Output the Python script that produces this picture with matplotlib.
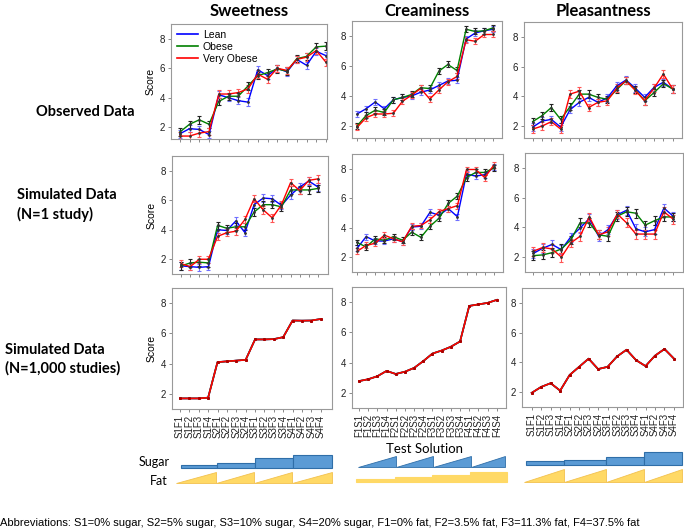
import numpy as np
import matplotlib.pyplot as plt
from matplotlib.patches import Rectangle, Polygon
from matplotlib.lines import Line2D

# x labels
labels_sf = ['S%dF%d' % (s, f) for s in range(1, 5) for f in range(1, 5)]
labels_fs = ['F%dS%d' % (f, s) for f in range(1, 5) for s in range(1, 5)]

# ---- observed data ----
obs_sweet_lean = [1.55, 1.9, 1.85, 1.5, 4.2, 4.0, 3.8, 3.7, 5.9, 5.5, 6.0, 5.75, 6.6, 6.2, 7.15, 6.85]
obs_sweet_obese = [1.67, 2.2, 2.5, 2.2, 3.75, 4.1, 4.1, 4.8, 5.5, 5.7, 5.95, 5.8, 6.65, 6.8, 7.45, 7.5]
obs_sweet_vob = [1.4, 1.4, 1.6, 1.7, 4.25, 4.25, 4.35, 4.6, 5.6, 5.25, 6.0, 5.85, 6.6, 6.75, 7.2, 6.4]

obs_cream_lean = [2.8, 3.15, 3.6, 3.15, 3.75, 3.9, 4.0, 4.25, 4.4, 4.7, 5.0, 5.05, 7.8, 8.2, 8.35, 8.45]
obs_cream_obese = [2.0, 2.7, 3.05, 2.9, 3.75, 3.9, 4.1, 4.55, 4.5, 5.65, 6.1, 5.7, 8.45, 8.3, 8.35, 8.55]
obs_cream_vob = [1.9, 2.55, 2.8, 2.8, 2.85, 3.65, 4.05, 4.5, 3.8, 4.4, 4.95, 5.3, 7.75, 7.65, 8.1, 8.1]

obs_pleas_lean = [1.93, 2.34, 2.45, 1.93, 3.1, 3.6, 3.93, 3.6, 3.9, 4.7, 5.1, 4.55, 3.93, 4.6, 4.95, 4.5]
obs_pleas_obese = [2.3, 2.7, 3.25, 2.45, 3.3, 4.15, 4.15, 3.93, 3.8, 4.45, 5.05, 4.45, 3.7, 4.25, 4.85, 4.5]
obs_pleas_vob = [1.8, 2.0, 2.3, 1.8, 4.15, 4.35, 3.25, 3.6, 3.7, 4.55, 5.05, 4.4, 3.7, 4.55, 5.5, 4.5]

# ---- simulated data, N=1 study ----
sim1_sweet_lean = [1.55, 1.5, 1.45, 1.5, 4.0, 3.95, 4.6, 3.8, 5.7, 6.15, 6.1, 5.65, 6.35, 6.9, 7.3, 6.9]
sim1_sweet_obese = [1.55, 1.75, 1.8, 1.75, 4.3, 4.1, 4.2, 4.2, 5.2, 5.7, 5.7, 5.55, 6.7, 6.7, 6.7, 6.8]
sim1_sweet_vob = [1.7, 1.5, 2.0, 2.0, 3.55, 3.8, 3.9, 4.7, 6.1, 5.35, 4.8, 5.7, 7.2, 6.65, 7.35, 7.45]

sim1_cream_lean = [2.6, 3.4, 3.1, 3.1, 3.25, 3.05, 4.05, 4.1, 5.05, 4.85, 5.3, 4.75, 7.65, 7.5, 7.6, 8.1]
sim1_cream_obese = [3.0, 2.7, 3.25, 3.15, 3.4, 3.15, 3.7, 3.35, 4.1, 4.65, 5.65, 6.15, 7.4, 7.75, 7.75, 8.05]
sim1_cream_vob = [2.4, 2.8, 2.95, 3.5, 3.25, 3.05, 4.1, 4.15, 4.55, 5.1, 5.3, 5.5, 7.95, 7.95, 7.4, 8.25]

sim1_pleas_lean = [2.25, 2.6, 2.85, 2.5, 3.35, 3.95, 4.6, 3.4, 3.85, 4.85, 5.15, 3.9, 3.7, 3.85, 5.3, 4.75]
sim1_pleas_obese = [2.1, 2.15, 2.3, 2.55, 3.15, 4.3, 4.3, 3.5, 3.4, 4.75, 5.05, 4.95, 4.15, 4.45, 4.7, 4.7]
sim1_pleas_vob = [2.4, 2.65, 2.55, 2.0, 2.95, 3.4, 4.7, 3.5, 3.7, 4.9, 4.3, 3.55, 3.55, 3.55, 5.05, 4.55]

# ---- simulated data, N=1,000 studies (groups overlap) ----
sim1000_sweet = [1.7, 1.7, 1.7, 1.75, 4.1, 4.15, 4.2, 4.25, 5.6, 5.6, 5.62, 5.75, 6.85, 6.84, 6.85, 6.95]
sim1000_cream = [2.78, 2.9, 3.1, 3.45, 3.25, 3.4, 3.65, 4.1, 4.6, 4.8, 5.05, 5.4, 7.75, 7.85, 7.95, 8.15]
sim1000_pleas = [1.95, 2.35, 2.6, 2.1, 3.15, 3.7, 4.25, 3.55, 3.7, 4.4, 4.85, 4.15, 3.75, 4.45, 4.9, 4.25]

# standard errors (rough read)
obs_err = [0.25, 0.2, 0.25]
sim1_err = [0.25, 0.2, 0.3]

groups = ['Lean', 'Obese', 'Very Obese']
line_cols = ['#0000ff', '#008000', '#ff0000']
err_cols = ['#7070ff', '#222222', '#ff5555']

W, H = 684, 530
fig = plt.figure(figsize=(W / 100, H / 100), dpi=100)
plt.rcParams['font.family'] = ['Liberation Sans', 'DejaVu Sans']


def rect(l, t, r, b):
    return [l / W, 1 - b / H, (r - l) / W, (b - t) / H]


def ftext(x, y, s, **kw):
    fig.text(x / W, 1 - y / H, s, **kw)


boxes = [
    [(171, 24, 327, 139), (352, 21, 502, 138), (524, 22, 682, 138)],
    [(172, 156, 328, 274), (352, 154, 503, 272), (525, 153, 683, 272)],
    [(172, 288, 332, 409), (352, 287, 506, 408), (522, 288, 683, 407)],
]
xlims = [
    [(0.1, 16.1), (0.45, 16.95), (0.07, 17.0)],
    [(0.0, 17.1), (0.45, 17.0), (0.1, 17.05)],
    [(0.15, 17.2), (0.24, 17.0), (-0.02, 16.95)],
]
ylims = [(1.2, 9.0), (1.0, 9.0), (1.0, 9.0)]

data = [
    [[obs_sweet_lean, obs_sweet_obese, obs_sweet_vob],
     [obs_cream_lean, obs_cream_obese, obs_cream_vob],
     [obs_pleas_lean, obs_pleas_obese, obs_pleas_vob]],
    [[sim1_sweet_lean, sim1_sweet_obese, sim1_sweet_vob],
     [sim1_cream_lean, sim1_cream_obese, sim1_cream_vob],
     [sim1_pleas_lean, sim1_pleas_obese, sim1_pleas_vob]],
    [[sim1000_sweet] * 3, [sim1000_cream] * 3, [sim1000_pleas] * 3],
]
errs = [obs_err, sim1_err, None]
xlabels = [labels_sf, labels_fs, labels_sf]

x = np.arange(1, 17)
for r in range(3):
    for c in range(3):
        ax = fig.add_axes(rect(*boxes[r][c]))
        for g in range(3):
            y = data[r][c][g]
            if errs[r] is not None:
                ax.errorbar(x, y, yerr=errs[r][c], color=line_cols[g], ecolor=err_cols[g],
                            elinewidth=0.8, capsize=1.5, capthick=0.8, lw=1.0,
                            marker='.', ms=2, mfc='#333333', mec='#333333')
            else:
                ax.plot(x, y, color=line_cols[g], lw=1.2, marker='.', ms=2.2,
                        mfc='#aa0000', mec='#aa0000')
        ax.set_xlim(*xlims[r][c])
        ax.set_ylim(*ylims[r])
        ax.set_yticks([2, 4, 6, 8])
        ax.set_xticks(x)
        if r == 2:
            ax.set_xticklabels(xlabels[c], rotation=90, fontsize=7)
        else:
            ax.set_xticklabels([])
        ax.tick_params(labelsize=7, length=2.5, width=0.6, color='#777777', labelcolor='#222222', pad=2)
        for sp in ax.spines.values():
            sp.set_color('#999999')
            sp.set_linewidth(0.8)
        if c == 0:
            ax.set_ylabel('Score', fontsize=7.5, labelpad=3)
        if r == 0 and c == 0:
            handles = [Line2D([], [], color=col, lw=1.2) for col in line_cols]
            ax.legend(handles, groups, loc='upper left', frameon=False, fontsize=7.5,
                      handlelength=2.0, handletextpad=0.5, borderaxespad=0.15, labelspacing=0.2)

# titles and row labels
for xc, name in zip([249, 427, 603], ['Sweetness', 'Creaminess', 'Pleasantness']):
    ftext(xc, 11, name, family='Lato', fontweight='bold', fontsize=12, ha='center', va='center')
ftext(85, 112, 'Observed Data', family='Lato', fontweight='bold', fontsize=10.5, ha='center', va='center')
ftext(17, 205, 'Simulated Data\n(N=1 study)', family='Lato', fontweight='bold', fontsize=10.5,
      ha='left', va='center', linespacing=1.35)
ftext(5, 359, 'Simulated Data\n(N=1,000 studies)', family='Lato', fontweight='bold', fontsize=10.5,
      ha='left', va='center', linespacing=1.35)
ftext(425, 449, 'Test Solution', family='Lato', fontsize=9.5, ha='center', va='center')
ftext(170, 462, 'Sugar', family='Lato', fontsize=9, ha='right', va='center')
ftext(168, 481, 'Fat', family='Lato', fontsize=9, ha='right', va='center')
ftext(0, 523, 'Abbreviations: S1=0% sugar, S2=5% sugar, S3=10% sugar, S4=20% sugar, '
      'F1=0% fat, F2=3.5% fat, F3=11.3% fat, F4=37.5% fat', fontsize=8, ha='left', va='center')

# schematic of sugar / fat levels
sch = fig.add_axes([0, 0, 1, 1])
sch.set_xlim(0, W)
sch.set_ylim(H, 0)
sch.axis('off')
blue_f, blue_e = '#5b9bd5', '#2f6ea8'
yel_f, yel_e = '#ffd966', '#f2c14e'


def steps(edges, base, heights, fc, ec):
    for i in range(4):
        sch.add_patch(Rectangle((edges[i], base - heights[i]), edges[i + 1] - edges[i], heights[i],
                                fc=fc, ec=ec, lw=0.8))


def ramps(edges, base, h, fc, ec):
    for i in range(4):
        sch.add_patch(Polygon([(edges[i], base), (edges[i + 1], base), (edges[i + 1], base - h)],
                              closed=True, fc=fc, ec=ec, lw=0.6))


steps([181, 217, 255, 293, 332], 468, [3, 5, 10, 13], blue_f, blue_e)
ramps([176, 216, 254, 292, 332], 483, 11, yel_f, yel_e)
ramps([358, 396, 433, 471, 505], 467, 11, blue_f, blue_e)
steps([356, 395, 432, 470, 507], 482, [3, 5, 7, 10], yel_f, yel_f)
steps([526, 564, 606, 644, 682], 465, [4, 5, 8, 13], blue_f, blue_e)
ramps([524, 564, 606, 644, 682], 482, 13, yel_f, yel_e)

fig.savefig('out.png', dpi=100)
